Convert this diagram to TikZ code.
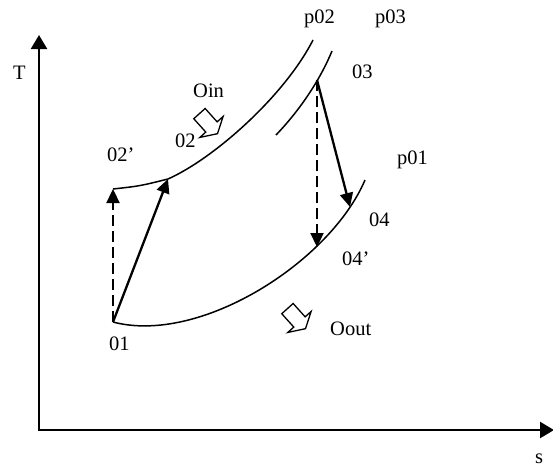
\documentclass[tikz,border=0pt]{standalone}
\usepackage{fontspec}
\setmainfont{Liberation Serif}
\usetikzlibrary{arrows.meta, shapes.arrows, positioning}

\begin{document}
\begin{tikzpicture}[x=1pt, y=-1pt,
  lbl/.style={font=\fontsize{20.5}{24}\selectfont, inner sep=0pt, anchor=base west},
  curve/.style={line width=1.5pt},
  axis/.style={line width=2.4pt, {Triangle[width=16pt,length=14pt]}-{Triangle[width=16pt,length=14pt]}},
  arrow/.style={-{Triangle[width=13pt,length=14pt]}, line width=2.3pt},
  dasharrow/.style={arrow, dash pattern=on 11pt off 5pt},
  heat/.style={single arrow, draw, line width=1.3pt, fill=white, minimum height=27pt, inner sep=7pt,
    single arrow head extend=8pt, single arrow tip angle=120, rotate=-48}
]
\useasboundingbox (0,0) rectangle (553,466);
% state points
\coordinate (st1) at (113,322);
\coordinate (st2s) at (113,189);
\coordinate (st2) at (168,179);
\coordinate (st3) at (317,80);
\coordinate (st4) at (350,207);
\coordinate (st4s) at (317,247);
\coordinate (ytip) at (39,35);
\coordinate (xtip) at (554,430);
% axes
\draw[axis] (ytip) |- (xtip);
% pressure lines
\draw[curve] (st2s) .. controls (140,186) .. (st2) .. controls (215,158) and (285,95) .. (313,40);
\draw[curve] (276,135) .. controls (300,110) and (320,80) .. (332,51);
\draw[curve] (st1) .. controls (200,345) and (330,262) .. (365,180);
% process arrows
\draw[dasharrow] (st1) -- (st2s);
\draw[arrow] (st1) -- (st2);
\draw[dasharrow] (st3) -- (st4s);
\draw[arrow] (st3) -- (st4);
% heat arrows
\node[heat] (qin) at (207,122) {};
\node[heat] (qout) at (295,317) {};
% labels
\node[lbl] (lT) at (13,79) {T};
\node[lbl] (ls) at (535,463) {s};
\node[lbl] (l01) at (109,350) {01};
\node[lbl] (l02s) at (107,161) {02’};
\node[lbl] (l02) at (175,147) {02};
\node[lbl] (lqin) at (193,97) {Oin};
\node[lbl] (lp02) at (304,23) {p02};
\node[lbl] (lp03) at (375,23) {p03};
\node[lbl] (l03) at (352,78) {03};
\node[lbl] (lp01) at (397,164) {p01};
\node[lbl] (l04) at (369,226) {04};
\node[lbl] (l04s) at (342,265) {04’};
\node[lbl] (lqout) at (330,335) {Oout};
\end{tikzpicture}
\end{document}
